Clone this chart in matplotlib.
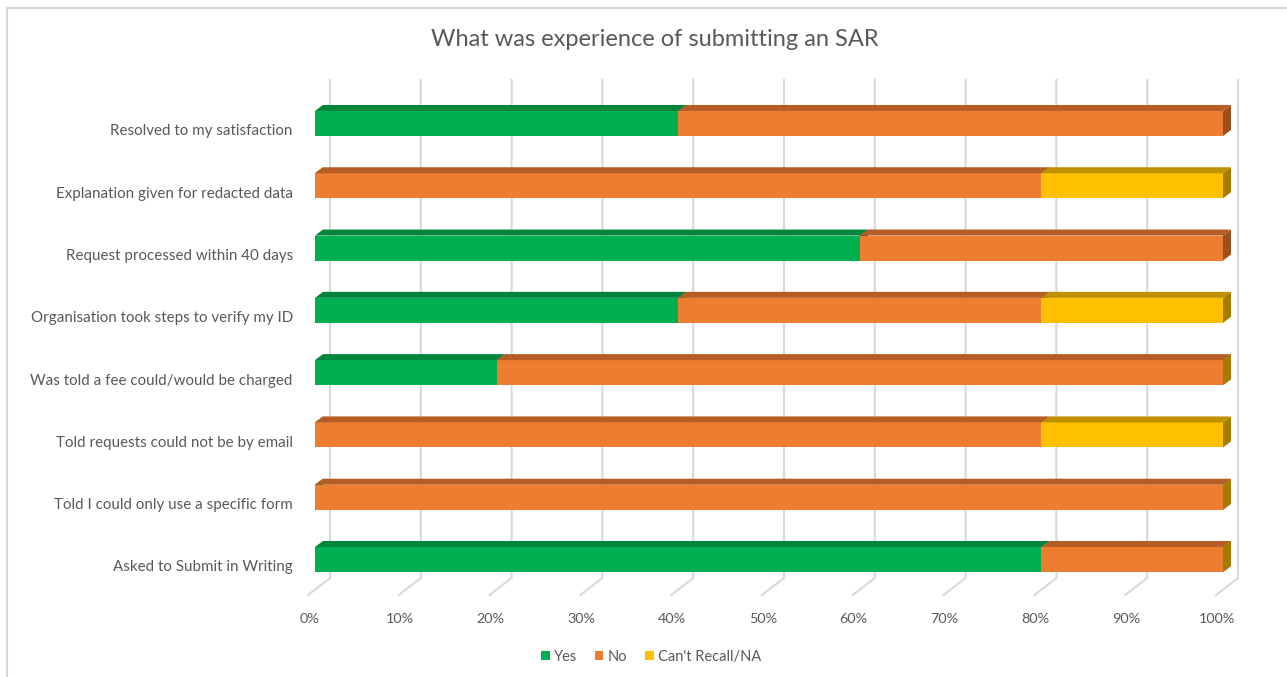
import matplotlib
matplotlib.use("Agg")
import matplotlib.pyplot as plt
from matplotlib.patches import Polygon, Patch, Rectangle
from matplotlib.lines import Line2D
import matplotlib.transforms as mtransforms

# ---- data -------------------------------------------------------------
categories = [
    "Asked to Submit in Writing",
    "Told I could only use a specific form",
    "Told requests could not be by email",
    "Was told a fee could/would be charged",
    "Organisation took steps to verify my ID",
    "Request processed within 40 days",
    "Explanation given for redacted data",
    "Resolved to my satisfaction",
]
yes = [0.8, 0.0, 0.0, 0.2, 0.4, 0.6, 0.0, 0.4]
no = [0.2, 1.0, 0.8, 0.8, 0.4, 0.4, 0.8, 0.6]
# None = blank cell (nothing drawn), 0 = zero value (end cap still drawn)
cant_recall = [0.0, 0.0, 0.2, 0.0, 0.2, None, 0.2, None]
series_names = ["Yes", "No", "Can't Recall/NA"]
tick_values = [i / 10 for i in range(11)]
tick_labels = [f"{int(v * 100)}%" for v in tick_values]
title = "What was experience of submitting an SAR"

# ---- styling ----------------------------------------------------------
front_colors = ["#00B050", "#ED7D31", "#FFC000"]
top_colors = ["#00853B", "#B55D25", "#BF9000"]
side_colors = ["#00803A", "#9E4F1E", "#A57C00"]
text_color = "#595959"
grid_color = "#D9D9D9"
FONT = ["Lato", "DejaVu Sans"]

W, H, DPI = 1287, 677, 100
fig = plt.figure(figsize=(W / DPI, H / DPI), dpi=DPI)
fig.patch.set_facecolor("white")

# axes: x 0..1 -> bar fronts at px 315..1223; y spans px 80..595
ax_left, ax_right = 315, 1223
ax_top, ax_bottom = 80, 595
ax = fig.add_axes([ax_left / W, 1 - ax_bottom / H,
                   (ax_right - ax_left) / W, (ax_bottom - ax_top) / H])
row_px = 62.29
y_front_center_bottom = 559.5
ax.set_xlim(0, 1)
ax.set_ylim((y_front_center_bottom - ax_bottom) / row_px,
            (y_front_center_bottom - ax_top) / row_px)
for s in ax.spines.values():
    s.set_visible(False)
ax.set_facecolor("none")

# pixel -> data conversions
px_x = 1.0 / (ax_right - ax_left)
px_y = 1.0 / row_px
y_lo, y_hi = ax.get_ylim()

# 3D depth of bars and of the back wall
bar_dx, bar_dy = 8 * px_x, 6 * px_y
back_dx = 15 * px_x
floor_dx = -7 * px_x
wall_base_y = y_lo + 17 * px_y

# gridlines: on the back wall, bending forward across the floor
for v in tick_values:
    ax.add_line(Line2D([v + back_dx, v + back_dx, v + floor_dx],
                       [y_hi, wall_base_y, y_lo],
                       color=grid_color, lw=1.5, zorder=1, clip_on=False,
                       solid_joinstyle="miter"))

# 3D stacked bars
bar_h = 25 * px_y
ypos = list(range(len(categories)))
for i, y in enumerate(ypos):
    left = 0.0
    vals = [yes[i], no[i], cant_recall[i]]
    yb, yt = y - bar_h / 2, y + bar_h / 2
    for k, v in enumerate(vals):
        if v is None:
            continue
        right = left + v
        if v > 0:
            ax.barh(y, v, left=left, height=bar_h, color=front_colors[k],
                    linewidth=0, zorder=3 + k)
            ax.add_patch(Polygon([(left, yt), (right, yt),
                                  (right + bar_dx, yt + bar_dy),
                                  (left + bar_dx, yt + bar_dy)],
                                 closed=True, facecolor=top_colors[k],
                                 linewidth=0, zorder=3 + k, clip_on=False))
        ax.add_patch(Polygon([(right, yb), (right, yt),
                              (right + bar_dx, yt + bar_dy),
                              (right + bar_dx, yb + bar_dy)],
                             closed=True, facecolor=side_colors[k],
                             linewidth=0, zorder=2.9 + k, clip_on=False))
        left = right

# axis labels
ax.set_yticks(ypos)
ax.set_yticklabels(categories, fontsize=10.9, color=text_color, family=FONT)
ax.tick_params(axis="y", length=0, pad=16)
ax.set_xticks(tick_values)
ax.set_xticklabels(tick_labels, fontsize=10.4, color=text_color, family=FONT)
ax.tick_params(axis="x", length=0, pad=13)
for lab in ax.get_yticklabels():
    lab.set_transform(lab.get_transform() +
                      mtransforms.ScaledTranslation(0, -6.5 / DPI, fig.dpi_scale_trans))
for lab in ax.get_xticklabels():
    lab.set_transform(lab.get_transform() +
                      mtransforms.ScaledTranslation(-6 / DPI, 0, fig.dpi_scale_trans))

# title
fig.text(655 / W, 1 - 40 / H, title, ha="center", va="center",
         fontsize=17, color=text_color, family=FONT)

# legend
handles = [Patch(facecolor=c, edgecolor="none") for c in front_colors]
fig.legend(handles, series_names, loc="center", ncol=3,
           bbox_to_anchor=(651 / W, 1 - 657 / H), frameon=False,
           prop={"family": FONT, "size": 10.5}, labelcolor=text_color,
           handlelength=0.6, handleheight=0.6, handletextpad=0.3,
           columnspacing=1.2)

# chart-area border (left and top edges visible)
fig.add_artist(Rectangle((7 / W, -0.1), 1.2, 1 - 8 / H + 0.1,
                         transform=fig.transFigure, fill=False,
                         edgecolor=grid_color, lw=1.5))

fig.savefig("out.png", dpi=DPI, facecolor="white")
